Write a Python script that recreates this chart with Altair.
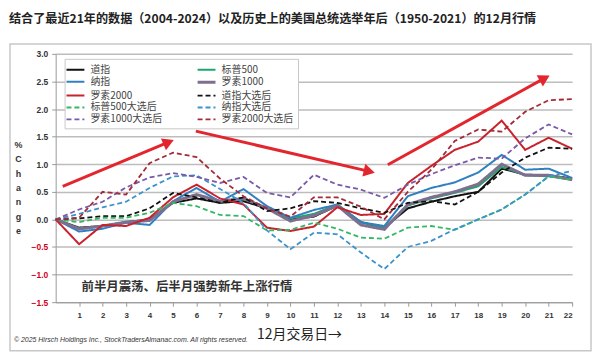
import altair as alt
import pandas as pd

title_text = "结合了最近21年的数据（2004-2024）以及历史上的美国总统选举年后（1950-2021）的12月行情"
note_text = "前半月震荡、后半月强势新年上涨行情"
copyright_text = "© 2025 Hirsch Holdings Inc., StockTradersAlmanac.com. All rights reserved."
x_title = "12月交易日→"
y_title = ["%", "C", "h", "a", "n", "g", "e"]

days = list(range(23))
series_names = ["道指", "标普500", "纳指", "罗素1000", "罗素2000",
                "道指大选后", "标普500大选后", "纳指大选后", "罗素1000大选后", "罗素2000大选后"]

dow     = [0, -0.15, -0.12, -0.05, 0.00, 0.30, 0.38, 0.30, 0.33, 0.20, 0.00, 0.05, 0.25, -0.05, -0.15, 0.20, 0.32, 0.42, 0.50, 0.92, 0.81, 0.80, 0.74]
sp500   = [0, -0.18, -0.12, -0.05, -0.02, 0.32, 0.45, 0.32, 0.38, 0.20, 0.02, 0.10, 0.27, -0.05, -0.15, 0.25, 0.38, 0.48, 0.60, 0.95, 0.80, 0.78, 0.72]
nasdaq  = [0, -0.22, -0.17, -0.06, -0.10, 0.33, 0.57, 0.32, 0.55, 0.24, 0.03, 0.17, 0.27, -0.05, -0.12, 0.42, 0.57, 0.67, 0.85, 1.17, 0.90, 0.92, 0.75]
r1000   = [0, -0.17, -0.12, -0.05, -0.02, 0.32, 0.45, 0.33, 0.38, 0.20, -0.03, 0.07, 0.25, -0.10, -0.18, 0.27, 0.40, 0.50, 0.64, 1.00, 0.80, 0.80, 0.72]
r2000   = [0, -0.45, -0.10, -0.12, 0.03, 0.40, 0.63, 0.38, 0.27, -0.15, -0.21, -0.13, 0.22, 0.08, 0.10, 0.66, 0.97, 1.26, 1.41, 1.79, 1.26, 1.48, 1.28]
dow_e   = [0, 0.02, 0.06, 0.06, 0.20, 0.48, 0.40, 0.30, 0.40, 0.15, 0.20, 0.33, 0.30, 0.20, 0.12, 0.30, 0.33, 0.27, 0.50, 0.85, 1.12, 1.30, 1.28]
sp_e    = [0, -0.05, 0.03, 0.03, 0.12, 0.30, 0.24, 0.08, 0.06, -0.20, -0.19, -0.06, -0.17, -0.33, -0.35, -0.15, -0.12, -0.19, 0.00, 0.18, 0.45, 0.78, 0.72]
nas_e   = [0, 0.10, 0.22, 0.32, 0.57, 0.78, 0.80, 0.55, 0.30, -0.20, -0.54, -0.24, -0.27, -0.60, -0.90, -0.50, -0.39, -0.18, 0.00, 0.18, 0.45, 0.78, 0.88]
r1000_e = [0, 0.18, 0.32, 0.58, 0.76, 0.84, 0.77, 0.66, 0.77, 0.48, 0.40, 0.81, 0.63, 0.54, 0.39, 0.63, 0.82, 0.98, 1.12, 1.10, 1.47, 1.72, 1.54]
r2000_e = [0, 0.03, 0.50, 0.45, 1.02, 1.21, 1.13, 0.74, 0.42, 0.20, 0.05, 0.40, 0.40, 0.23, 0.00, 0.50, 0.90, 1.42, 1.63, 1.59, 1.95, 2.16, 2.18]

series_values = [dow, sp500, nasdaq, r1000, r2000, dow_e, sp_e, nas_e, r1000_e, r2000_e]
colors = ["#111111", "#1fa56c", "#2f7fc1", "#7d6f8f", "#c8232c",
          "#111111", "#35b865", "#3a93cc", "#7a5aa8", "#a32a36"]
dashes = [[1, 0]] * 5 + [[5, 3]] * 5
widths = [2, 2, 2, 3, 2, 1.8, 1.8, 1.8, 1.8, 1.8]

y_ticks = [-1.5, -1.0, -0.5, 0.0, 0.5, 1.0, 1.5, 2.0, 2.5, 3.0]
x_ticks = list(range(1, 23))

# annotation arrows (data coordinates)
arrow_x0 = [0.30, 5.97, 14.15]
arrow_y0 = [0.60, 1.60, 0.99]
arrow_x1 = [4.81, 13.36, 20.83]
arrow_y1 = [1.40, 0.87, 2.56]
arrow_angle = [67, 103, 61]

rows = []
for name, vals in zip(series_names, series_values):
    for d, v in zip(days, vals):
        rows.append({"day": d, "pct": v, "series": name})
df = pd.DataFrame(rows)

arrows = pd.DataFrame({"day": arrow_x0, "pct": arrow_y0, "day2": arrow_x1,
                       "pct2": arrow_y1, "ang": arrow_angle})
note_df = pd.DataFrame({"day": [1.1], "pct": [-1.23], "label": [note_text]})
one = pd.DataFrame({"k": [0]})

CJK = "Noto Sans CJK SC"
NUM = "Liberation Sans"

x_scale = alt.Scale(domain=[0, 22], nice=False, zero=False)
y_scale = alt.Scale(domain=[-1.5, 3.0], nice=False)

x_axis = alt.Axis(
    values=x_ticks, title=x_title, grid=False, domain=True, domainColor="#999",
    ticks=True, tickSize=4, tickColor="#999", labelFont=NUM, labelFontWeight="bold",
    labelFontSize=8, labelColor="#333", labelPadding=5, labelOverlap=False,
    titleFont=CJK, titleFontSize=14, titleFontWeight="normal", titleColor="#222",
    titleX=245, titleY=33, titleBaseline="middle", titleAlign="center")
y_axis = alt.Axis(
    values=y_ticks, format=".1f", title=y_title, grid=True, gridColor="#bdbdbd",
    gridWidth=1.5, domain=True, domainColor="#999", ticks=True, tickSize=4,
    tickColor="#999", labelFont=NUM, labelFontWeight="bold", labelFontSize=8.5,
    labelColor=alt.condition("datum.value < 0", alt.value("#d0021b"), alt.value("#333")),
    labelPadding=4, labelOverlap=False, labelFlush=False,
    titleAngle=0, titleAlign="center", titleBaseline="top",
    titleX=-38, titleY=87, titleLineHeight=14.5, titleFont=NUM, titleFontSize=9,
    titleFontWeight="bold", titleColor="#333")


def X(field):
    return alt.X(field, type="quantitative", scale=x_scale, axis=x_axis)


def Y(field):
    return alt.Y(field, type="quantitative", scale=y_scale, axis=y_axis)


frame = alt.Chart(one).mark_rect(fillOpacity=0, stroke="#c8c8c8", strokeWidth=1.5).encode(
    x=alt.value(-46), x2=alt.value(539), y=alt.value(-10), y2=alt.value(299)
)

lines = alt.Chart(df).mark_line().encode(
    x=X("day"),
    y=Y("pct"),
    color=alt.Color("series:N", sort=series_names,
                    scale=alt.Scale(domain=series_names, range=colors),
                    legend=alt.Legend(title=None)),
    strokeDash=alt.StrokeDash("series:N", sort=series_names,
                              scale=alt.Scale(domain=series_names, range=dashes),
                              legend=alt.Legend(title=None)),
    strokeWidth=alt.StrokeWidth("series:N", sort=series_names,
                                scale=alt.Scale(type="ordinal", domain=series_names, range=widths),
                                legend=None),
)

arrow_lines = alt.Chart(arrows).mark_rule(color="#e3262e", strokeWidth=3).encode(
    x=X("day"), y=Y("pct"), x2="day2:Q", y2="pct2:Q"
)
arrow_heads = alt.Chart(arrows).mark_point(shape="triangle-up", filled=True, size=170,
                                           color="#e3262e", opacity=1).encode(
    x=X("day2"), y=Y("pct2"), angle=alt.Angle("ang:Q", scale=None)
)

note = alt.Chart(note_df).mark_text(align="left", baseline="middle", font=CJK,
                                    fontSize=12.5, fontWeight="bold", color="#333").encode(
    x=X("day"), y=Y("pct"), text="label:N"
)

copyright_mark = alt.Chart(one).mark_text(align="left", baseline="middle", font=NUM,
                                          fontSize=7, fontStyle="italic", color="#333",
                                          text=copyright_text).encode(
    x=alt.value(-42), y=alt.value(288)
)

chart = alt.layer(frame, lines, arrow_lines, arrow_heads, note, copyright_mark).properties(
    width=520, height=250,
    autosize=alt.AutoSizeParams(type="none"),
    padding={"left": 48, "top": 45, "right": 20, "bottom": 50},
    title=alt.TitleParams(text=title_text, anchor="start", frame="group", dx=-47,
                          font=CJK, fontSize=12.2, fontWeight="bold", color="#222", offset=18),
).configure_view(stroke=None).configure_axis(
    labelOverlap=False
).configure_legend(
    orient="none", legendX=9, legendY=5, columns=2, direction="horizontal",
    columnPadding=28, rowPadding=0,
    padding=4, fillColor="white", strokeColor="#c8c8c8", labelFont=CJK, labelFontSize=10,
    labelColor="#444", symbolType="M-1.6,0H1.4", symbolSize=144, symbolStrokeWidth=2,
    labelOffset=7
)

chart.save("out.html", embed_options={"renderer": "svg", "actions": False})
